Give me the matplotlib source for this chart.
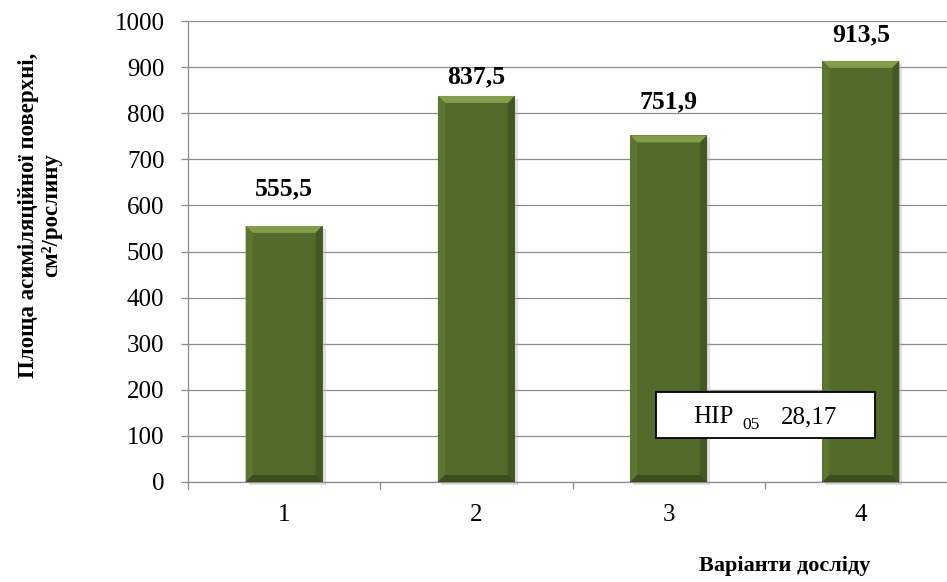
import matplotlib
matplotlib.use("Agg")
import matplotlib.pyplot as plt
from matplotlib.patches import Polygon, Rectangle

categories = ["1", "2", "3", "4"]
values = [555.5, 837.5, 751.9, 913.5]
value_labels = ["555,5", "837,5", "751,9", "913,5"]
y_ticks = [0, 100, 200, 300, 400, 500, 600, 700, 800, 900, 1000]
y_label = "Площа асиміляційної поверхні,\nсм²/рослину"
x_label = "Варіанти досліду"
hir_name = "НІР"
hir_sub = "05"
hir_value = "28,17"

# label placement (pixels above bar top, label centre) -- styling only
label_gap_px = [37, 19, 34, 26]

W, H = 947, 582
fig = plt.figure(figsize=(W / 100, H / 100), dpi=100)
plt.rcParams['font.family'] = ['Liberation Serif', 'DejaVu Serif']

ax_left, ax_right, ax_bottom, ax_top = 188, 957, 482, 21
ax = fig.add_axes([ax_left / W, 1 - ax_bottom / H, (ax_right - ax_left) / W, (ax_bottom - ax_top) / H])

xs = list(range(len(categories)))
bars = ax.bar(xs, values, width=0.4, color="#546a2a", edgecolor="none", zorder=3)

ax.set_xlim(-0.5, len(categories) - 0.5)
ax.set_ylim(0, 1000)
ax.set_yticks(y_ticks)
ax.set_yticklabels([str(t) for t in y_ticks])
ax.set_xticks(xs)
ax.set_xticklabels(categories)
ax.set_xticks([x + 0.5 for x in xs[:-1]] + [-0.5], minor=True)

ax.yaxis.grid(True, color="#8c8c8c", linewidth=0.9, zorder=0)
ax.set_axisbelow(True)
for s in ["top", "right"]:
    ax.spines[s].set_visible(False)
for s in ["left", "bottom"]:
    ax.spines[s].set_color("#8c8c8c")
    ax.spines[s].set_linewidth(0.9)
ax.tick_params(axis="y", which="major", length=5, color="#8c8c8c", width=0.9,
               labelsize=18, pad=12)
ax.tick_params(axis="x", which="major", length=0, labelsize=18, pad=16)
ax.tick_params(axis="x", which="minor", length=5, color="#8c8c8c", width=0.9)

# bevel & shadow effects derived from bars
px_per_x = (ax_right - ax_left) / len(categories)
px_per_y = (ax_bottom - ax_top) / 1000
bx = 7 / px_per_x
by = 7 / px_per_y
for b in bars:
    x0 = b.get_x(); w = b.get_width(); h = b.get_height()
    x1 = x0 + w
    ax.add_patch(Rectangle((x0 + 3 / px_per_x, -3 / px_per_y), w, h, facecolor="#b8b8b8",
                           edgecolor="none", alpha=0.45, zorder=2.5, clip_on=False))
    top = Polygon([(x0, h), (x1, h), (x1 - bx, h - by), (x0 + bx, h - by)],
                  facecolor="#849d4b", edgecolor="none", zorder=4)
    left = Polygon([(x0, h), (x0 + bx, h - by), (x0 + bx, by), (x0, 0)],
                   facecolor="#5c7531", edgecolor="none", zorder=4)
    right = Polygon([(x1, h), (x1 - bx, h - by), (x1 - bx, by), (x1, 0)],
                    facecolor="#445823", edgecolor="none", zorder=4)
    bottom = Polygon([(x0, 0), (x0 + bx, by), (x1 - bx, by), (x1, 0)],
                     facecolor="#3c4e1f", edgecolor="none", zorder=4)
    for p in (top, left, right, bottom):
        ax.add_patch(p)

for b, lab, gap in zip(bars, value_labels, label_gap_px):
    ax.annotate(lab, (b.get_x() + b.get_width() / 2, b.get_height()),
                xytext=(0, gap * 0.72), textcoords="offset points", ha="center", va="center",
                fontsize=18.5, fontweight="bold", zorder=5)

fig.text(40 / W, 1 - 215 / H, y_label, rotation=90, ha="center", va="center",
         fontsize=16.5, fontweight="bold", linespacing=1.1)
fig.text(785 / W, 1 - 566 / H, x_label, ha="center", va="center",
         fontsize=16, fontweight="bold")

# НІР box
bx0, bx1, by0, by1 = 656, 875, 392, 438
fig.patches.append(Rectangle((bx0 / W, 1 - by1 / H), (bx1 - bx0) / W, (by1 - by0) / H,
                             transform=fig.transFigure, facecolor="white",
                             edgecolor="black", linewidth=1.3, zorder=10))
ty = 1 - 417 / H
fig.text(693 / W, ty, hir_name, ha="left", va="center", fontsize=18, zorder=11)
fig.text(742 / W, 1 - 425 / H, hir_sub, ha="left", va="center", fontsize=12.5, zorder=11)
fig.text(837 / W, ty, hir_value, ha="right", va="center", fontsize=18, zorder=11)

fig.savefig("out.png", dpi=100)
